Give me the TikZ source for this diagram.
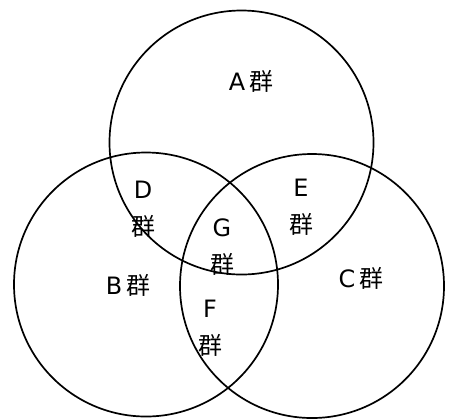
\documentclass[tikz,border=0pt]{standalone}
\usepackage{fontspec}
\setmainfont{DejaVu Sans}
\newfontfamily\cjk{Noto Sans CJK SC}
\newcommand{\qun}{{\cjk 群}}
\begin{document}
\begin{tikzpicture}[x=1bp,y=-1bp,
  setcircle/.style={circle,draw=black,line width=1.7bp,minimum size=264bp,inner sep=0pt},
  lbl/.style={font=\fontsize{24}{37}\selectfont,align=center,inner sep=0pt}]
\useasboundingbox (0,0) rectangle (453,419);
\node[setcircle] (A) at (241.5,142.5) {};
\node[setcircle] (B) at (146,284.5) {};
\node[setcircle] (C) at (312,286) {};
\node[lbl] (la) at (251,81) {A\,\qun};
\node[lbl] (lb) at (128,285) {B\,\qun};
\node[lbl] (lc) at (361,278) {C\,\qun};
\node[lbl] (ld) at (143,209) {D\\\qun};
\node[lbl] (le) at (301,207) {E\\\qun};
\node[lbl] (lg) at (222,247) {G\\\qun};
\node[lbl] (lf) at (210,328) {F\\\qun};
\end{tikzpicture}
\end{document}
